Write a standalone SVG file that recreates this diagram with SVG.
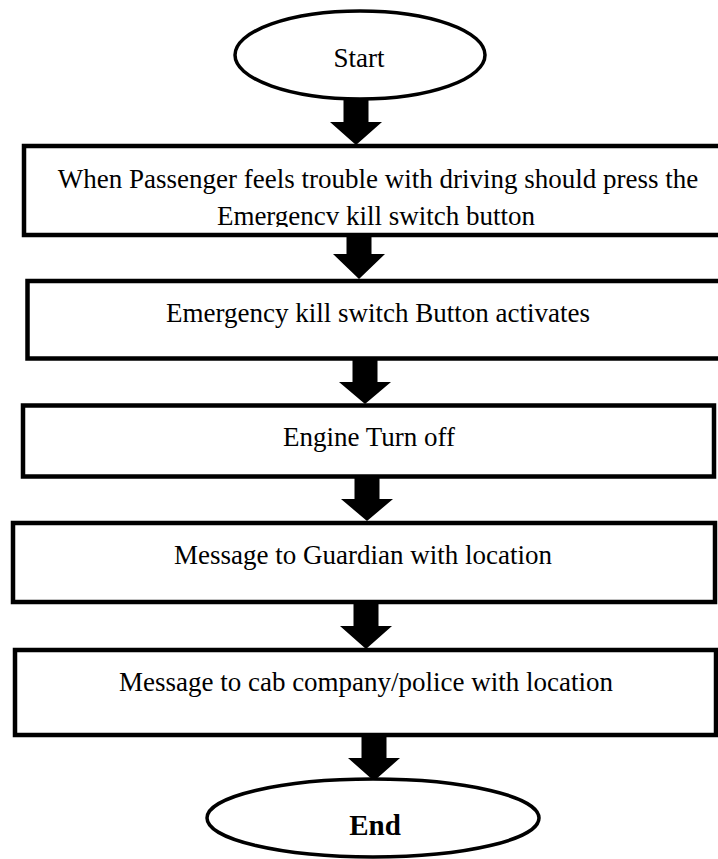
<svg xmlns="http://www.w3.org/2000/svg" width="718" height="859" viewBox="0 0 718 859">
<style>
  .box { fill: #ffffff; stroke: #000000; stroke-width: 4.5; }
  .term { fill: #ffffff; stroke: #000000; stroke-width: 3.5; }
  .lbl { font-family: "Liberation Serif", "Times New Roman", serif; font-size: 27px; fill: #000000; text-anchor: middle; }
  .bold { font-weight: bold; font-size: 29px; }
  .arrow { fill: #000000; stroke: none; }
</style>
<defs>
  <clipPath id="clip1"><rect x="26" y="148" width="700" height="79"/></clipPath>
</defs>
<rect width="718" height="859" fill="#ffffff"/>
<g id="connectors">
  <polygon class="arrow" points="343.5,99 368.5,99 368.5,122 382,122 356,145 330,122 343.5,122"/>
  <polygon class="arrow" points="346.5,236 371.5,236 371.5,254 385,254 359,279 333,254 346.5,254"/>
  <polygon class="arrow" points="352.5,359 377.5,359 377.5,382 391,382 365,404 339,382 352.5,382"/>
  <polygon class="arrow" points="354.5,477 379.5,477 379.5,499 393,499 367,521 341,499 354.5,499"/>
  <polygon class="arrow" points="353.5,602 378.5,602 378.5,626 392,626 366,649 340,626 353.5,626"/>
  <polygon class="arrow" points="361.5,735 386.5,735 386.5,758 400,758 374,781 348,758 361.5,758"/>
</g>
<g id="start">
  <ellipse class="term" cx="360" cy="55" rx="125" ry="44"/>
  <text class="lbl" x="359" y="67">Start</text>
</g>
<g id="step1">
  <rect class="box" x="24" y="146" width="700" height="89"/>
  <g clip-path="url(#clip1)">
    <text class="lbl" x="378" y="188">When Passenger feels trouble with driving should press the</text>
    <text class="lbl" x="376" y="225">Emergencv kill switch button</text>
  </g>
</g>
<g id="step2">
  <rect class="box" x="27.5" y="281" width="700" height="77.5"/>
  <text class="lbl" x="378" y="322">Emergency kill switch Button activates</text>
</g>
<g id="step3">
  <rect class="box" x="23" y="405.5" width="691" height="71"/>
  <text class="lbl" x="369" y="446">Engine Turn off</text>
</g>
<g id="step4">
  <rect class="box" x="13" y="523" width="702" height="79"/>
  <text class="lbl" x="363" y="564">Message to Guardian with location</text>
</g>
<g id="step5">
  <rect class="box" x="15" y="650" width="701" height="85"/>
  <text class="lbl" x="366" y="691">Message to cab company/police with location</text>
</g>
<g id="end">
  <ellipse class="term" cx="373" cy="818" rx="166" ry="39"/>
  <text class="lbl bold" x="375" y="835">End</text>
</g>
</svg>
